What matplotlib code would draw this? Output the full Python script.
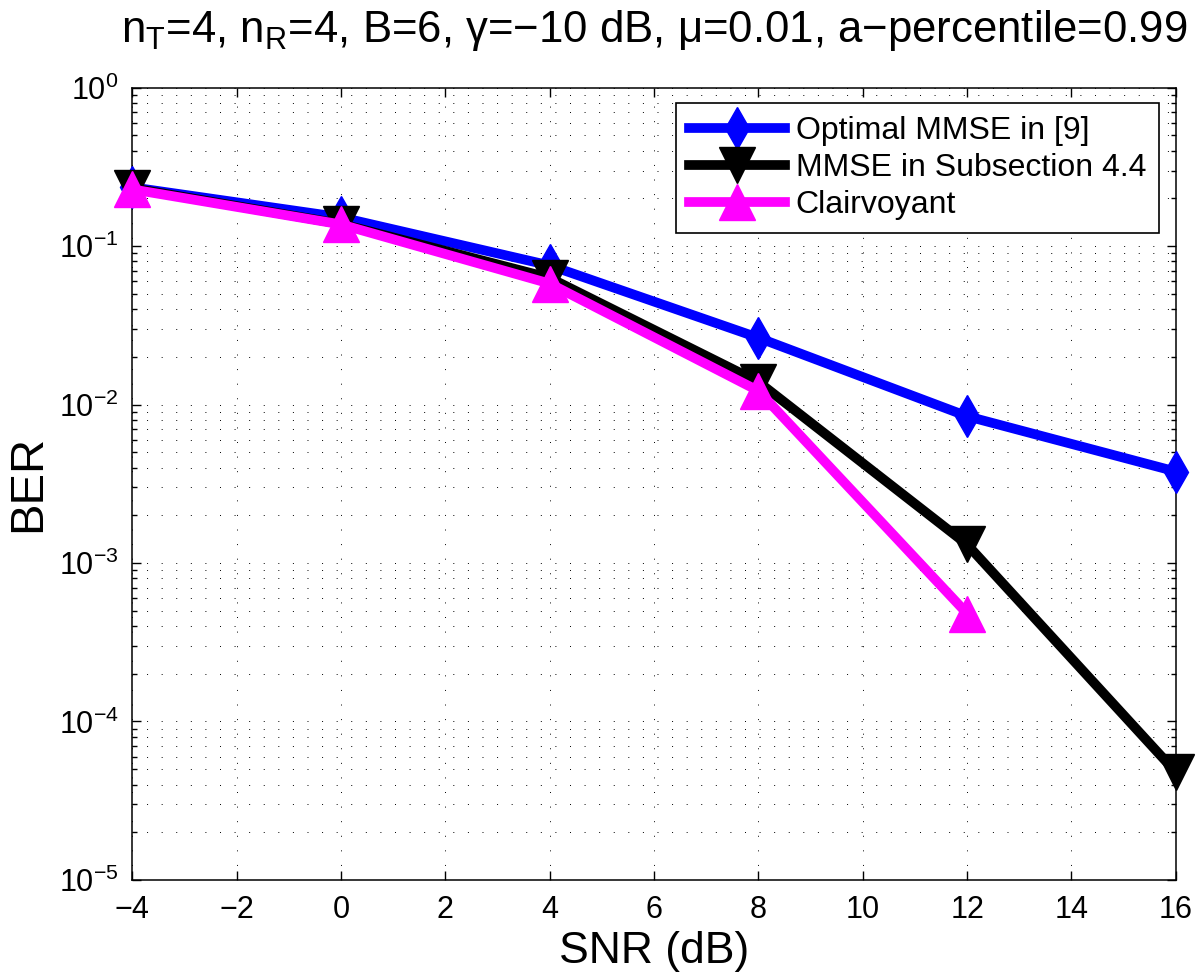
import matplotlib
matplotlib.use("Agg")
import matplotlib.pyplot as plt
from matplotlib.ticker import LogLocator, NullFormatter, FixedLocator

plt.rcParams["font.family"] = ["Liberation Sans", "DejaVu Sans"]
plt.rcParams["mathtext.fontset"] = "custom"
plt.rcParams["mathtext.rm"] = "Liberation Sans"
plt.rcParams["mathtext.it"] = "Liberation Sans:italic"
plt.rcParams["mathtext.bf"] = "Liberation Sans:bold"

# data
snr = [-4, 0, 4, 8, 12, 16]
snr_clair = [-4, 0, 4, 8, 12]
ber_opt = [0.235, 0.152, 0.0755, 0.0264, 0.00844, 0.00378]
ber_sub44 = [0.232, 0.138, 0.063, 0.0139, 0.00131, 4.8e-5]
ber_clair = [0.228, 0.137, 0.058, 0.0122, 0.00048]

labels = ["Optimal MMSE in [9]", "MMSE in Subsection 4.4", "Clairvoyant"]
x_ticks = list(range(-4, 17, 2))
title = (r"n$_\mathregular{T}$=4, n$_\mathregular{R}$=4, B=6, "
         "\u03b3=\u221210 dB, \u03bc=0.01, a\u2212percentile=0.99")

fig = plt.figure(figsize=(12, 9.76), dpi=100)
ax = fig.add_axes([0.1103, 0.0984, 0.8695, 0.8118])

ax.semilogy(snr, ber_opt, "-d", color="#0000ff", lw=7, ms=21,
            mew=1, label=labels[0], clip_on=False, zorder=3)
ax.semilogy(snr, ber_sub44, "-v", color="k", lw=7, ms=26,
            mew=1, label=labels[1], clip_on=False, zorder=4)
ax.semilogy(snr_clair, ber_clair, "-^", color="#ff00ff", lw=7, ms=26,
            mew=1, label=labels[2], clip_on=False, zorder=5)

ax.set_xlim(-4, 16)
ax.set_ylim(1e-5, 1)
ax.xaxis.set_major_locator(FixedLocator(x_ticks))
ax.yaxis.set_major_locator(LogLocator(base=10, numticks=10))
ax.yaxis.set_minor_locator(LogLocator(base=10, subs=range(2, 10), numticks=20))
ax.yaxis.set_minor_formatter(NullFormatter())

dots = (0, (1, 14))
ax.grid(True, which="major", axis="both", color="k", lw=0.7, linestyle=dots)
ax.grid(True, which="minor", axis="y", color="k", lw=0.7, linestyle=dots)
ax.set_axisbelow(True)

ax.tick_params(which="both", direction="in", top=True, right=True, width=1)
ax.tick_params(which="major", length=6.5)
ax.tick_params(which="minor", length=3.5)
ax.tick_params(axis="x", labelsize=22, pad=11)
ax.tick_params(axis="y", labelsize=22, pad=10)
for s in ax.spines.values():
    s.set_linewidth(1.1)

ax.set_xlabel("SNR (dB)", fontsize=32, va="baseline")
ax.xaxis.set_label_coords(0.5, -0.1048)
ax.set_ylabel("BER", fontsize=34, va="baseline")
ax.yaxis.set_label_coords(-0.0885, 0.5)

fig.text(0.545, 1 - 42 / 976, title, ha="center", va="baseline", fontsize=31.5)

leg = ax.legend(loc="upper right", bbox_to_anchor=(0.984, 0.98),
                borderaxespad=0, fontsize=23, handlelength=3.0,
                handletextpad=0.35, borderpad=0.4, labelspacing=0.22,
                fancybox=False, framealpha=1, edgecolor="k")
leg.get_frame().set_linewidth(1.2)

fig.savefig("out.png", dpi=100)
